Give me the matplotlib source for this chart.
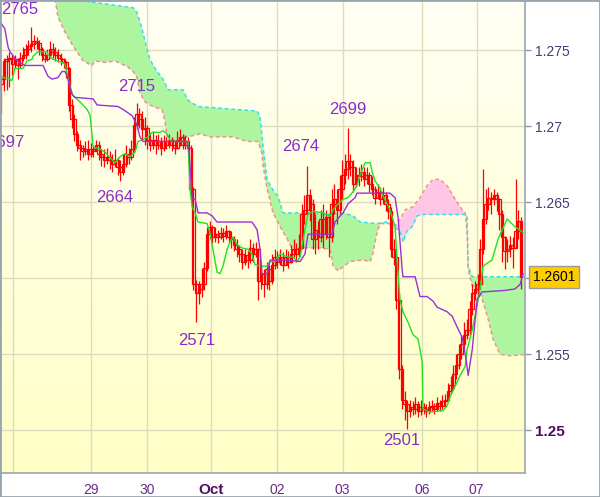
import numpy as np
import matplotlib
matplotlib.use("Agg")
import matplotlib.pyplot as plt
import matplotlib.transforms as mtransforms
from matplotlib.colors import LinearSegmentedColormap
from matplotlib.patches import Rectangle

plt.rcParams['font.family'] = ['Liberation Sans', 'DejaVu Sans']

# hourly EUR/USD candles (bar index 0..192), open = previous close
first_open = 1.2728
closes = [
    1.2731, 1.2743, 1.2744, 1.2745, 1.2741, 1.2744, 1.2740, 1.2745, 1.2747, 1.2751,
    1.2753, 1.2754, 1.2756, 1.2755, 1.2751, 1.2747, 1.2744, 1.2747, 1.2751, 1.2749,
    1.2747, 1.2745, 1.2744, 1.2742, 1.2738, 1.2714, 1.2705, 1.2695, 1.2688, 1.2686,
    1.2684, 1.2685, 1.2682, 1.2685, 1.2684, 1.2688, 1.2682, 1.2680, 1.2678, 1.2680,
    1.2678, 1.2675, 1.2678, 1.2673, 1.2670, 1.2675, 1.2682, 1.2680, 1.2685, 1.2701,
    1.2708, 1.2705, 1.2698, 1.2699, 1.2691, 1.2688, 1.2691, 1.2688, 1.2690, 1.2686,
    1.2690, 1.2688, 1.2691, 1.2688, 1.2686, 1.2691, 1.2693, 1.2688, 1.2690, 1.2686,
    1.2659, 1.2596, 1.2590, 1.2593, 1.2596, 1.2607, 1.2629, 1.2634, 1.2627, 1.2629,
    1.2627, 1.2630, 1.2628, 1.2631, 1.2627, 1.2626, 1.2622, 1.2619, 1.2616, 1.2611,
    1.2615, 1.2612, 1.2620, 1.2616, 1.2619, 1.2598, 1.2603, 1.2596, 1.2606, 1.2598,
    1.2609, 1.2614, 1.2611, 1.2614, 1.2609, 1.2614, 1.2611, 1.2616, 1.2619, 1.2616,
    1.2620, 1.2642, 1.2645, 1.2655, 1.2649, 1.2626, 1.2632, 1.2627, 1.2639, 1.2629,
    1.2640, 1.2627, 1.2649, 1.2652, 1.2645, 1.2659, 1.2668, 1.2672, 1.2677, 1.2673,
    1.2662, 1.2668, 1.2667, 1.2670, 1.2665, 1.2668, 1.2662, 1.2659, 1.2653, 1.2657,
    1.2652, 1.2655, 1.2649, 1.2644, 1.2619, 1.2614, 1.2586, 1.2540, 1.2520, 1.2517,
    1.2513, 1.2515, 1.2514, 1.2517, 1.2513, 1.2515, 1.2514, 1.2513, 1.2515, 1.2516,
    1.2514, 1.2518, 1.2516, 1.2519, 1.2520, 1.2526, 1.2530, 1.2537, 1.2543, 1.2550,
    1.2557, 1.2563, 1.2566, 1.2580, 1.2590, 1.2593, 1.2596, 1.2619, 1.2639, 1.2649,
    1.2653, 1.2652, 1.2655, 1.2652, 1.2642, 1.2627, 1.2618, 1.2619, 1.2622, 1.2620,
    1.2631, 1.2638, 1.2601]
highs = [
    1.2734, 1.2745, 1.2747, 1.2749, 1.2747, 1.2747, 1.2745, 1.2749, 1.2752, 1.2754,
    1.2757, 1.2765, 1.2760, 1.2759, 1.2757, 1.2752, 1.2749, 1.2751, 1.2756, 1.2755,
    1.2752, 1.2751, 1.2748, 1.2745, 1.2743, 1.2739, 1.2718, 1.2708, 1.2697, 1.2691,
    1.2688, 1.2690, 1.2691, 1.2689, 1.2687, 1.2691, 1.2690, 1.2685, 1.2685, 1.2686,
    1.2684, 1.2682, 1.2685, 1.2680, 1.2678, 1.2682, 1.2688, 1.2686, 1.2691, 1.2706,
    1.2715, 1.2712, 1.2710, 1.2706, 1.2701, 1.2695, 1.2697, 1.2694, 1.2695, 1.2693,
    1.2694, 1.2693, 1.2695, 1.2693, 1.2691, 1.2697, 1.2698, 1.2695, 1.2694, 1.2693,
    1.2688, 1.2660, 1.2599, 1.2598, 1.2607, 1.2611, 1.2634, 1.2638, 1.2635, 1.2634,
    1.2632, 1.2634, 1.2633, 1.2635, 1.2632, 1.2631, 1.2628, 1.2626, 1.2622, 1.2619,
    1.2619, 1.2618, 1.2626, 1.2623, 1.2624, 1.2620, 1.2609, 1.2606, 1.2611, 1.2609,
    1.2616, 1.2619, 1.2618, 1.2619, 1.2617, 1.2619, 1.2618, 1.2622, 1.2626, 1.2623,
    1.2629, 1.2649, 1.2655, 1.2674, 1.2659, 1.2652, 1.2642, 1.2638, 1.2645, 1.2649,
    1.2645, 1.2642, 1.2659, 1.2662, 1.2659, 1.2668, 1.2678, 1.2682, 1.2699, 1.2682,
    1.2678, 1.2673, 1.2673, 1.2675, 1.2673, 1.2673, 1.2670, 1.2667, 1.2661, 1.2662,
    1.2660, 1.2660, 1.2657, 1.2652, 1.2647, 1.2626, 1.2619, 1.2590, 1.2543, 1.2526,
    1.2520, 1.2520, 1.2519, 1.2522, 1.2519, 1.2520, 1.2518, 1.2517, 1.2519, 1.2520,
    1.2518, 1.2522, 1.2520, 1.2523, 1.2524, 1.2531, 1.2536, 1.2543, 1.2550, 1.2557,
    1.2563, 1.2571, 1.2573, 1.2585, 1.2596, 1.2598, 1.2603, 1.2626, 1.2672, 1.2659,
    1.2660, 1.2657, 1.2659, 1.2657, 1.2653, 1.2645, 1.2628, 1.2626, 1.2628, 1.2627,
    1.2665, 1.2645, 1.2640]
lows = [
    1.2709, 1.2723, 1.2724, 1.2726, 1.2734, 1.2738, 1.2731, 1.2738, 1.2743, 1.2744,
    1.2747, 1.2749, 1.2751, 1.2751, 1.2747, 1.2743, 1.2742, 1.2743, 1.2745, 1.2745,
    1.2743, 1.2742, 1.2740, 1.2738, 1.2732, 1.2710, 1.2699, 1.2690, 1.2684, 1.2678,
    1.2680, 1.2681, 1.2678, 1.2680, 1.2680, 1.2684, 1.2678, 1.2674, 1.2673, 1.2675,
    1.2672, 1.2670, 1.2673, 1.2668, 1.2664, 1.2668, 1.2673, 1.2675, 1.2678, 1.2684,
    1.2698, 1.2699, 1.2691, 1.2688, 1.2685, 1.2684, 1.2685, 1.2682, 1.2685, 1.2681,
    1.2684, 1.2685, 1.2686, 1.2684, 1.2682, 1.2685, 1.2687, 1.2685, 1.2685, 1.2684,
    1.2655, 1.2592, 1.2571, 1.2583, 1.2588, 1.2592, 1.2605, 1.2626, 1.2623, 1.2624,
    1.2623, 1.2626, 1.2624, 1.2626, 1.2623, 1.2620, 1.2618, 1.2614, 1.2611, 1.2606,
    1.2609, 1.2607, 1.2610, 1.2611, 1.2614, 1.2586, 1.2593, 1.2588, 1.2593, 1.2592,
    1.2596, 1.2606, 1.2607, 1.2609, 1.2605, 1.2609, 1.2607, 1.2610, 1.2614, 1.2611,
    1.2614, 1.2619, 1.2636, 1.2642, 1.2638, 1.2619, 1.2616, 1.2619, 1.2624, 1.2620,
    1.2626, 1.2614, 1.2624, 1.2642, 1.2636, 1.2642, 1.2652, 1.2662, 1.2665, 1.2667,
    1.2657, 1.2660, 1.2661, 1.2664, 1.2661, 1.2662, 1.2657, 1.2655, 1.2649, 1.2652,
    1.2648, 1.2649, 1.2644, 1.2639, 1.2614, 1.2609, 1.2580, 1.2534, 1.2514, 1.2507,
    1.2501, 1.2509, 1.2510, 1.2511, 1.2509, 1.2510, 1.2511, 1.2509, 1.2511, 1.2513,
    1.2511, 1.2513, 1.2513, 1.2514, 1.2515, 1.2519, 1.2524, 1.2527, 1.2534, 1.2540,
    1.2547, 1.2552, 1.2560, 1.2563, 1.2576, 1.2586, 1.2588, 1.2593, 1.2616, 1.2636,
    1.2645, 1.2642, 1.2648, 1.2644, 1.2632, 1.2611, 1.2606, 1.2611, 1.2614, 1.2607,
    1.2622, 1.2626, 1.2593]

# Ichimoku lines (bar index, price)
tenkan_x = [-0.5, 2.1, 3.9, 5.0, 8.0, 9.5, 11.3, 11.7, 13.5, 16.9, 17.2, 19.1, 20.9,
            22.4, 23.5, 24.6, 25.4, 26.5, 29.1, 31.7, 32.8, 33.9, 34.6, 36.5, 38.3,
            40.9, 42.0, 43.9, 45.7, 47.5, 49.4, 50.5, 52.0, 54.2, 55.7, 58.6, 59.7,
            61.2, 62.3, 63.4, 67.9, 69.0, 69.7, 70.5, 71.6, 72.7, 76.0, 77.1, 78.2,
            79.7, 80.8, 81.9, 83.4, 84.5, 85.6, 87.1, 88.9, 91.2, 92.6, 93.7, 95.6,
            98.2, 99.3, 101.1, 103.0, 105.9, 107.8, 109.3, 110.4, 112.2, 113.3, 115.2,
            118.9, 121.5, 122.6, 124.4, 126.3, 128.1, 130.0, 131.4, 132.6, 133.7,
            134.4, 136.3, 137.0, 138.1, 140.0, 141.1, 143.6, 145.5, 146.2, 147.3,
            148.4, 150.3, 152.1, 154.0, 155.5, 155.8, 158.4, 163.2, 164.7, 165.8,
            167.7, 169.5, 171.4, 172.1, 174.0, 175.8, 176.9, 178.0, 181.3, 183.6,
            186.9, 188.0, 189.8, 192.8]
tenkan_y = [1.2732, 1.2732, 1.2730, 1.2738, 1.2738, 1.2743, 1.2744, 1.2746, 1.2749,
            1.2749, 1.2747, 1.2744, 1.2743, 1.2742, 1.2741, 1.2732, 1.2726, 1.2720,
            1.2716, 1.2711, 1.2707, 1.2687, 1.2686, 1.2685, 1.2683, 1.2678, 1.2676,
            1.2680, 1.2682, 1.2680, 1.2683, 1.2690, 1.2691, 1.2693, 1.2696, 1.2696,
            1.2697, 1.2695, 1.2691, 1.2690, 1.2690, 1.2690, 1.2659, 1.2647, 1.2643,
            1.2637, 1.2636, 1.2630, 1.2619, 1.2604, 1.2603, 1.2608, 1.2619, 1.2624,
            1.2627, 1.2622, 1.2620, 1.2619, 1.2616, 1.2609, 1.2608, 1.2608, 1.2611,
            1.2611, 1.2616, 1.2614, 1.2614, 1.2611, 1.2614, 1.2632, 1.2642, 1.2644,
            1.2643, 1.2641, 1.2645, 1.2649, 1.2652, 1.2653, 1.2657, 1.2661, 1.2668,
            1.2673, 1.2676, 1.2676, 1.2670, 1.2664, 1.2659, 1.2654, 1.2645, 1.2634,
            1.2612, 1.2586, 1.2578, 1.2571, 1.2563, 1.2560, 1.2545, 1.2514, 1.2512,
            1.2513, 1.2516, 1.2522, 1.2529, 1.2536, 1.2542, 1.2553, 1.2566, 1.2582,
            1.2593, 1.2608, 1.2612, 1.2626, 1.2639, 1.2637, 1.2634, 1.2630]
kijun_x = [-0.5, 1.3, 2.5, 3.2, 5.8, 8.7, 15.4, 17.2, 18.7, 20.9, 22.4, 23.5, 24.3,
           26.1, 27.2, 33.9, 35.4, 43.1, 45.0, 48.3, 50.1, 51.2, 52.4, 68.6, 69.4,
           70.5, 71.6, 72.7, 76.0, 77.9, 79.7, 92.6, 94.5, 95.6, 96.3, 98.2, 99.3,
           104.8, 110.4, 112.2, 113.3, 122.2, 123.3, 125.2, 126.3, 128.1, 130.7,
           131.4, 143.6, 145.5, 146.6, 148.1, 148.4, 152.9, 154.7, 157.3, 159.5,
           161.0, 164.7, 166.6, 168.4, 170.3, 171.7, 172.5, 174.0, 175.8, 177.6,
           186.1, 189.8, 191.7, 192.8]
kijun_y = [1.2769, 1.2764, 1.2752, 1.2749, 1.2743, 1.2740, 1.2740, 1.2733, 1.2731,
           1.2732, 1.2736, 1.2736, 1.2733, 1.2721, 1.2719, 1.2718, 1.2714, 1.2713,
           1.2711, 1.2707, 1.2701, 1.2693, 1.2690, 1.2690, 1.2683, 1.2652, 1.2652,
           1.2643, 1.2643, 1.2641, 1.2637, 1.2637, 1.2632, 1.2619, 1.2603, 1.2603,
           1.2612, 1.2612, 1.2611, 1.2616, 1.2629, 1.2629, 1.2637, 1.2641, 1.2643,
           1.2649, 1.2653, 1.2656, 1.2656, 1.2653, 1.2640, 1.2606, 1.2601, 1.2601,
           1.2588, 1.2588, 1.2585, 1.2581, 1.2578, 1.2575, 1.2568, 1.2561, 1.2547,
           1.2536, 1.2553, 1.2586, 1.2591, 1.2592, 1.2593, 1.2596, 1.2603]
span_a_x = [-0.5, 30.9, 32.0, 48.7, 50.1, 52.0, 53.8, 54.9, 56.8, 59.7, 61.6, 67.1,
            69.0, 72.7, 79.7, 87.1, 94.5, 95.6, 96.7, 98.2, 100.0, 102.2, 104.1,
            113.0, 120.4, 126.3, 130.0, 132.6, 138.8, 142.5, 144.8, 147.3, 148.4,
            149.9, 151.8, 153.6, 155.5, 171.4, 172.1, 172.5, 174.0, 194.0]
span_a_y = [1.2800, 1.2795, 1.2782, 1.2778, 1.2775, 1.2764, 1.2751, 1.2744, 1.2738,
            1.2731, 1.2724, 1.2724, 1.2717, 1.2713, 1.2712, 1.2711, 1.2710, 1.2706,
            1.2687, 1.2665, 1.2659, 1.2654, 1.2643, 1.2643, 1.2642, 1.2643, 1.2641,
            1.2637, 1.2636, 1.2637, 1.2634, 1.2631, 1.2624, 1.2631, 1.2634, 1.2641,
            1.2642, 1.2642, 1.2641, 1.2608, 1.2601, 1.2601]
span_b_x = [-0.5, 18.7, 19.8, 20.9, 23.5, 26.1, 30.2, 33.5, 34.6, 38.3, 42.0, 46.8,
            48.7, 50.1, 51.2, 53.1, 56.0, 59.4, 60.5, 61.2, 64.2, 69.0, 73.4, 77.1,
            85.6, 90.8, 94.9, 96.3, 96.7, 98.2, 100.4, 103.0, 105.6, 107.8, 110.4,
            117.8, 121.5, 122.6, 124.4, 128.9, 133.7, 136.3, 137.4, 138.8, 140.0,
            143.6, 146.2, 149.2, 152.1, 154.7, 157.3, 159.5, 162.1, 164.7, 167.7,
            170.3, 171.4, 172.1, 172.5, 174.0, 176.9, 179.9, 181.7, 184.3, 188.0, 194.0]
span_b_y = [1.2800, 1.2790, 1.2784, 1.2772, 1.2762, 1.2754, 1.2743, 1.2740, 1.2743,
            1.2742, 1.2743, 1.2739, 1.2736, 1.2732, 1.2722, 1.2716, 1.2713, 1.2711,
            1.2703, 1.2693, 1.2691, 1.2693, 1.2695, 1.2693, 1.2693, 1.2690, 1.2690,
            1.2682, 1.2674, 1.2659, 1.2643, 1.2634, 1.2626, 1.2618, 1.2620, 1.2620,
            1.2619, 1.2608, 1.2605, 1.2611, 1.2612, 1.2611, 1.2617, 1.2630, 1.2636,
            1.2636, 1.2635, 1.2645, 1.2647, 1.2653, 1.2661, 1.2665, 1.2665, 1.2661,
            1.2652, 1.2645, 1.2643, 1.2630, 1.2606, 1.2595, 1.2591, 1.2573, 1.2560,
            1.2550, 1.2549, 1.2550]

# high / low marks
mark_text = ['2765', '2697', '2715', '2664', '2571', '2674', '2699', '2501']
mark_x = [6.9, 8.6, 50.1, 42.0, 72.3, 110.7, 128.1, 148.1]
mark_y = [1.2777, 1.2689, 1.2726, 1.2653, 1.2559, 1.2687, 1.2711, 1.2493]
mark_ha = ['center', 'right', 'center', 'center', 'center', 'center', 'center', 'center']

day_ticks = [4.3, 33.1, 53.7, 77.5, 101.9, 126.1, 155.5, 175.6]
day_labels = ['', '29', '30', 'Oct', '02', '03', '06', '07']
price_ticks = [1.25, 1.255, 1.26, 1.265, 1.27, 1.275]
price_labels = ['1.25', '1.255', '', '1.265', '1.27', '1.275']
last_price = 1.2601

fig = plt.figure(figsize=(6, 4.97), dpi=100)
fig.patch.set_facecolor('white')
ax = fig.add_axes([1 / 600, 24 / 497, 524 / 600, 472 / 497])
x0, x1 = -0.13, 193.5
y0, y1 = 1.24719, 1.27824
ax.set_xlim(x0, x1)
ax.set_ylim(y0, y1)

# background gradient
bg = LinearSegmentedColormap.from_list('bg', ['#ffffc6', '#fffff4'])
ax.imshow(np.linspace(0, 1, 256).reshape(-1, 1), cmap=bg, origin='lower',
          extent=[x0, x1, y0, y1], aspect='auto', zorder=0)

# cloud
grid = np.linspace(-1, 195, 3000)
a = np.interp(grid, span_a_x, span_a_y)
b = np.interp(grid, span_b_x, span_b_y)
ax.fill_between(grid, a, b, where=a >= b, interpolate=True, color='#aef5a0', lw=0, zorder=1)
ax.fill_between(grid, a, b, where=a < b, interpolate=True, color='#ffc6e6', lw=0, zorder=1)
ax.plot(span_a_x, span_a_y, color='#36dff0', lw=1.1, ls=(0, (2.5, 1.8)), zorder=2)
ax.plot(span_b_x, span_b_y, color='#f59090', lw=1.1, ls=(0, (2.5, 1.8)), zorder=2)

# candles
x = np.arange(len(closes))
c = np.array(closes)
o = np.array([first_open] + closes[:-1])
h = np.maximum(np.array(highs), np.maximum(o, c))
l = np.minimum(np.array(lows), np.minimum(o, c))
ax.vlines(x, l, h, color='#ff0000', lw=0.9, zorder=3)
body_lo = np.minimum(o, c)
body_h = np.abs(c - o)
ax.bar(x, body_h, bottom=body_lo, width=1.0, facecolor='none',
       edgecolor='#ff0000', lw=0.9, zorder=4)

# tenkan / kijun
ax.plot(tenkan_x, tenkan_y, color='#22e022', lw=1.0, zorder=5)
ax.plot(kijun_x, kijun_y, color='#9a30d8', lw=1.0, zorder=5)

for t, mx, my, ha in zip(mark_text, mark_x, mark_y, mark_ha):
    ax.text(mx, my, t, color='#8a2ccc', fontsize=12, ha=ha, va='center', zorder=6)

# axes styling
ax.set_axisbelow(True)
ax.grid(True, color='#dedcbc', lw=1)
ax.set_xticks(day_ticks)
ax.set_xticklabels(day_labels)
ax.yaxis.tick_right()
ax.set_yticks(price_ticks)
ax.set_yticklabels(price_labels)
ax.tick_params(axis='x', length=0, pad=7, labelsize=10, labelcolor='#6a2a8a')
ax.tick_params(axis='y', length=4, width=1, color='#8e9aa4', pad=3,
               labelsize=10, labelcolor='#4a3a7a')
for lab in ax.get_xticklabels():
    if lab.get_text() == 'Oct':
        lab.set_fontweight('bold')
        lab.set_fontsize(11)
        lab.set_color('#4b1060')
for lab in ax.get_yticklabels():
    if lab.get_text() == '1.25':
        lab.set_fontweight('bold')
        lab.set_fontsize(11)
        lab.set_color('#4b1060')
for s in ['top', 'left']:
    ax.spines[s].set_visible(False)
for s in ['right', 'bottom']:
    ax.spines[s].set_color('#9aa6b0')
    ax.spines[s].set_linewidth(1.2)

# last price box
trans = mtransforms.blended_transform_factory(ax.transAxes, ax.transData)
ax.text(1.015, last_price, '%.4f' % last_price, transform=trans, ha='left', va='center',
        fontsize=10, color='black', clip_on=False, zorder=7,
        bbox=dict(boxstyle='square,pad=0.3', fc='#ffcc00', ec='#9a9a9a', lw=1))

fig.patches.append(Rectangle((0, 0), 1, 1, transform=fig.transFigure, fill=False,
                             ec='#98a4ae', lw=2))

fig.savefig('out.png', dpi=100)
